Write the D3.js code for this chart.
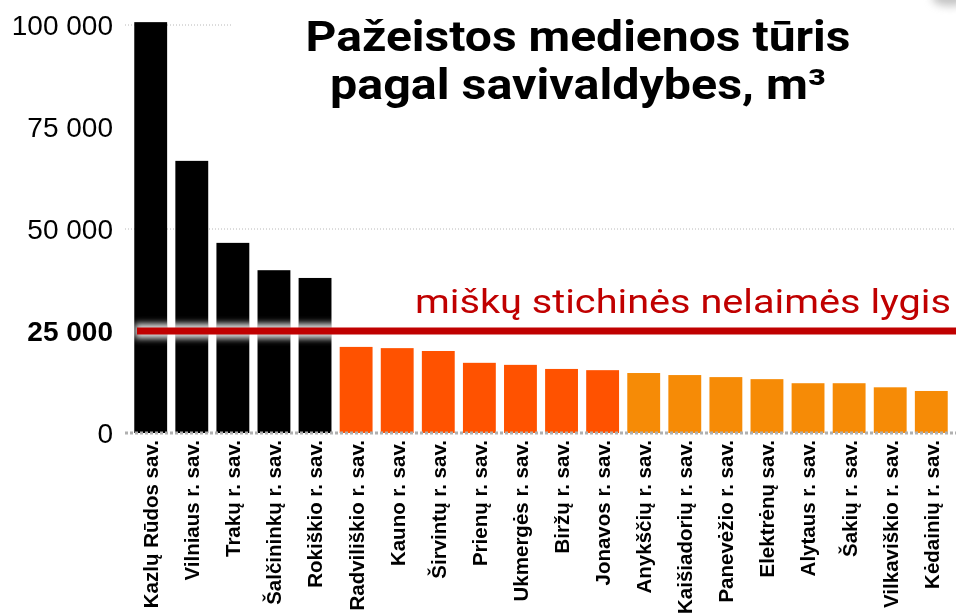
<!DOCTYPE html>
<html><head><meta charset="utf-8">
<script src="https://cdn.jsdelivr.net/npm/d3@7"></script>
<style>html,body{margin:0;padding:0;background:#fff;}svg{display:block;}</style>
</head><body>
<svg id="chart" width="956" height="615"></svg>
<script>
const categories = ["Kazlų Rūdos sav.","Vilniaus r. sav.","Trakų r. sav.","Šalčininkų r. sav.","Rokiškio r. sav.","Radviliškio r. sav.","Kauno r. sav.","Širvintų r. sav.","Prienų r. sav.","Ukmergės r. sav.","Biržų r. sav.","Jonavos r. sav.","Anykščių r. sav.","Kaišiadorių r. sav.","Panevėžio r. sav.","Elektrėnų sav.","Alytaus r. sav.","Šakių r. sav.","Vilkaviškio r. sav.","Kėdainių r. sav."];
const values = [100700,66700,46600,39900,38000,21100,20800,20100,17200,16700,15700,15400,14700,14200,13700,13200,12200,12200,11200,10300];
const tiers = [0,0,0,0,0,1,1,1,1,1,1,1,2,2,2,2,2,2,2,2];
const tierColors = ["#000000","#FF5200","#F68B06"];
const yTicks = [0,25000,50000,75000,100000];
const gridTicks = [50000,100000];
const threshold = 25000;
const thresholdLabel = "miškų stichinės nelaimės lygis";
const titleLines = ["Pažeistos medienos tūris","pagal savivaldybes, m³"];
const titleWidths = [545,496];

const svg = d3.select("#chart");
const x = d3.scaleBand().domain(categories).range([124,958]).paddingInner(0.2).paddingOuter(0.25);
const y = d3.scaleLinear().domain([0,100000]).range([433,25]);
const fmt = v => d3.format(",")(v).replace(/,/g," ");

const defs = svg.append("defs");
defs.append("filter").attr("id","glow").attr("filterUnits","userSpaceOnUse")
  .attr("x",0).attr("y",280).attr("width",956).attr("height",100)
  .append("feGaussianBlur").attr("stdDeviation",3);
defs.append("filter").attr("id","blob").attr("x","-100%").attr("y","-100%").attr("width","300%").attr("height","300%")
  .append("feGaussianBlur").attr("stdDeviation",4);

// gridlines
svg.append("g").selectAll("line").data(gridTicks).join("line")
  .attr("x1",125).attr("x2",956).attr("y1",d=>y(d)).attr("y2",d=>y(d))
  .attr("stroke","#b8b8b8").attr("stroke-width",1).attr("stroke-dasharray","1,2");

// title background covering gridlines
svg.append("rect").attr("x",233).attr("y",0).attr("width",723).attr("height",120).attr("fill","#fff");

// bars
svg.append("g").selectAll("rect").data(categories).join("rect")
  .attr("x",d=>x(d)).attr("width",x.bandwidth())
  .attr("y",(d,i)=>y(values[i])).attr("height",(d,i)=>y(0)-y(values[i]))
  .attr("fill",(d,i)=>tierColors[tiers[i]]);

// baseline
svg.append("line").attr("x1",125).attr("x2",956).attr("y1",y(0)).attr("y2",y(0))
  .attr("stroke","#b0b0b0").attr("stroke-width",3).attr("stroke-dasharray","3,2");

// threshold glow + line
svg.append("line").attr("x1",135).attr("x2",956).attr("y1",y(threshold)).attr("y2",y(threshold))
  .attr("stroke","#e0e0e0").attr("stroke-width",15).attr("filter","url(#glow)")
  .style("mix-blend-mode","lighten");
svg.append("line").attr("x1",137).attr("x2",956).attr("y1",y(threshold)).attr("y2",y(threshold))
  .attr("stroke","#C00000").attr("stroke-width",7);

svg.append("text").attr("x",951).attr("y",313).attr("text-anchor","end")
  .attr("font-family","Roboto").attr("font-size",34).attr("fill","#C00000")
  .attr("textLength",536).attr("lengthAdjust","spacingAndGlyphs")
  .text(thresholdLabel);

// y axis labels
svg.append("g").selectAll("text").data(yTicks).join("text")
  .attr("x",113).attr("y",d=>y(d)).attr("dy","0.36em").attr("text-anchor","end")
  .attr("font-family","Liberation Sans, Arial, sans-serif").attr("font-size",28)
  .attr("font-weight",d=>d===threshold?"bold":"normal").attr("fill","#000")
  .text(d=>fmt(d));

// x labels
svg.append("g").selectAll("text").data(categories).join("text")
  .attr("transform",d=>`translate(${x(d)+x.bandwidth()/2},440) rotate(-90)`)
  .attr("dy","0.36em").attr("text-anchor","end")
  .attr("font-family","Liberation Sans, Arial, sans-serif").attr("font-size",20.5).attr("font-weight","bold")
  .attr("fill","#000").text(d=>d);

// title
svg.append("g").selectAll("text").data(titleLines).join("text")
  .attr("x",578).attr("y",(d,i)=>51+i*48).attr("text-anchor","middle")
  .attr("font-family","Roboto").attr("font-size",42).attr("font-weight","bold").attr("fill","#000")
  .attr("textLength",(d,i)=>titleWidths[i]).attr("lengthAdjust","spacingAndGlyphs")
  .text(d=>d);

// corner blob
svg.append("ellipse").attr("cx",950).attr("cy",-2).attr("rx",18).attr("ry",8)
  .attr("fill","#888").attr("opacity",0.5).attr("filter","url(#blob)");
</script>
</body></html>
